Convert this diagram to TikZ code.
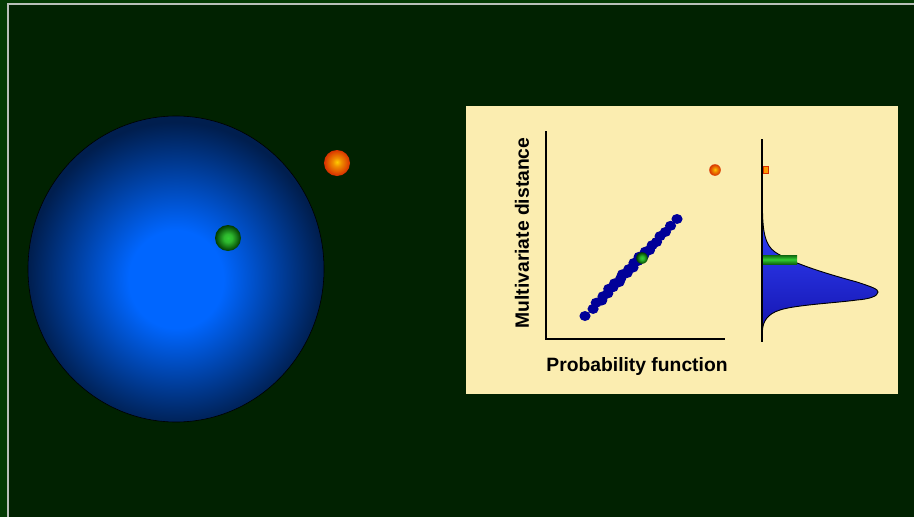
\documentclass[tikz,border=0pt]{standalone}
\usepackage{fontspec}
\setmainfont{Liberation Sans}
\definecolor{outerbg}{HTML}{033A03}
\definecolor{bg}{HTML}{012201}
\definecolor{framec}{HTML}{B8C0B8}
\definecolor{panel}{HTML}{FBEDB0}
\definecolor{bluec}{HTML}{0066FF}
\definecolor{blueedge}{HTML}{001E4E}
\definecolor{dotblue}{HTML}{000099}
\definecolor{gcenter}{HTML}{33CC33}
\definecolor{gedge}{HTML}{003A00}
\definecolor{ocenter}{HTML}{FFCC00}
\definecolor{oedge}{HTML}{D83000}
\definecolor{distTop}{HTML}{3344FF}
\definecolor{distBot}{HTML}{1515B0}
\pgfdeclareradialshading{bigball}{\pgfpoint{0bp}{-2bp}}{color(0bp)=(bluec); color(8bp)=(bluec); color(25bp)=(blueedge); color(50bp)=(blueedge)}
\pgfdeclareradialshading{greenball}{\pgfpoint{0bp}{0bp}}{color(0bp)=(gcenter); color(8bp)=(gcenter!90!black); color(25bp)=(gedge); color(50bp)=(gedge)}
\pgfdeclareradialshading{orangeball}{\pgfpoint{0bp}{2bp}}{color(0bp)=(ocenter); color(8bp)=(ocenter!60!oedge); color(25bp)=(oedge); color(50bp)=(oedge)}
\tikzset{
  axisline/.style={line width=1.2pt, black},
  labeltext/.style={font=\fontsize{19.3}{23}\selectfont\bfseries, text=black, inner sep=0pt},
  bluedot/.style={fill=dotblue},
}
\begin{document}
\begin{tikzpicture}[x=1pt,y=-1pt]
\useasboundingbox (0,0) rectangle (914,517);
% background
\fill[outerbg] (0,0) rectangle (914,517);
\fill[bg] (8,4) rectangle (914,517);
\draw[framec, line width=1.3pt] (8,517) -- (8,4) -- (914,4);
% big ball
\shade[shading=bigball] (176,269) ellipse [x radius=148, y radius=153];
\draw[black, line width=0.6pt] (176,269) ellipse [x radius=148, y radius=153];
% green ball
\shade[shading=greenball] (228,238) circle [radius=13];
% orange ball
\shade[shading=orangeball] (337,163) circle [radius=13];
% panel
\fill[panel] (466,106) rectangle (898,394);
% scatter axes
\coordinate (ytop) at (546,131);
\coordinate (orig) at (546,339);
\coordinate (xend) at (725,339);
\draw[axisline] (ytop) -- (orig) -- (xend);
\node[labeltext, rotate=90] (ylab) at (522,233) {Multivariate distance};
\node[labeltext] (xlab) at (637,367) {Probability function};
% blue dots
\foreach \t/\o in {0/0, 0.08/1, 0.13/-1, 0.17/1.5, 0.2/-0.5, 0.24/1, 0.27/-1.5, 0.3/0.5, 0.33/-1, 0.36/1.5, 0.39/0, 0.42/-1.5, 0.45/1, 0.48/-0.5, 0.51/1.5, 0.54/-1, 0.57/0.5, 0.6/-1.5, 0.63/1, 0.66/-0.5, 0.69/1.5, 0.73/0, 0.77/1, 0.82/-0.5, 0.87/0.5, 0.93/0, 1/0}
  \fill[bluedot] ({585+92*\t+0.72*\o},{316-97*\t+0.69*\o}) ellipse [x radius=5.6, y radius=5];
% green dot on scatter
\shade[shading=greenball] (642,258) circle [radius=5.8];
% orange dot on scatter
\shade[shading=orangeball] (715,170) circle [radius=5.8];
% distribution
\shade[top color=distTop, bottom color=distBot]
  (762.5,212) .. controls (763,232) and (765,245) .. (775,252)
  .. controls (790,262) and (820,272) .. (857,282)
  .. controls (872,287) and (878,289) .. (878,292)
  .. controls (878,296) and (870,299) .. (857,300)
  .. controls (835,303) and (795,305) .. (780,310)
  .. controls (767,314) and (763,322) .. (762.5,330) -- cycle;
\draw[black, line width=0.9pt]
  (762.5,212) .. controls (763,232) and (765,245) .. (775,252)
  .. controls (790,262) and (820,272) .. (857,282)
  .. controls (872,287) and (878,289) .. (878,292)
  .. controls (878,296) and (870,299) .. (857,300)
  .. controls (835,303) and (795,305) .. (780,310)
  .. controls (767,314) and (763,322) .. (762.5,330);
\shade[top color=gedge!70!gcenter, bottom color=gedge!70!gcenter, middle color=gcenter] (762,255) rectangle (797,264);
\coordinate (dtop) at (762,139);
\coordinate (dbot) at (762,342);
\draw[axisline] (dtop) -- (dbot);
\filldraw[fill=orange!80!yellow, draw=oedge, line width=0.6pt] (763,166) rectangle (768,173);
\end{tikzpicture}
\end{document}
